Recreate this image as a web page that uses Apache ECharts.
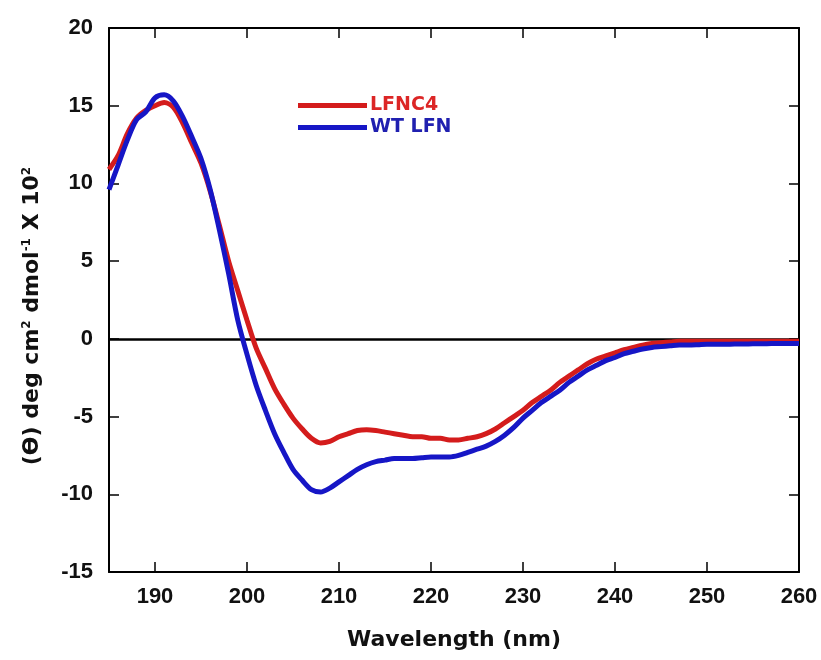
<!DOCTYPE html>
<html>
<head>
<meta charset="utf-8">
<script src="https://cdn.jsdelivr.net/npm/echarts@6/dist/echarts.min.js"></script>
<style>html,body{margin:0;padding:0;background:#fff}#c{width:821px;height:660px}</style>
</head>
<body>
<div id="c"></div>
<script>
var wavelengths = [185,186,187,188,189,190,191,192,193,194,195,196,197,198,199,200,201,202,203,204,205,206,207,208,209,210,211,212,213,214,215,216,217,218,219,220,221,222,223,224,225,226,227,228,229,230,231,232,233,234,235,236,237,238,239,240,241,242,243,244,245,246,247,248,249,250,251,252,253,254,255,256,257,258,259,260];
var lfnc4 = [10.9,11.8,13.2,14.2,14.7,15.0,15.2,14.9,13.9,12.6,11.3,9.5,7.3,5.0,3.1,1.2,-0.6,-1.9,-3.2,-4.2,-5.1,-5.8,-6.4,-6.7,-6.6,-6.3,-6.1,-5.9,-5.85,-5.9,-6.0,-6.1,-6.2,-6.3,-6.3,-6.4,-6.4,-6.5,-6.5,-6.4,-6.3,-6.1,-5.8,-5.4,-5.0,-4.6,-4.1,-3.7,-3.3,-2.8,-2.4,-2.0,-1.6,-1.3,-1.1,-0.9,-0.7,-0.55,-0.4,-0.3,-0.25,-0.2,-0.15,-0.15,-0.15,-0.15,-0.15,-0.15,-0.15,-0.15,-0.15,-0.15,-0.15,-0.15,-0.15,-0.15];
var wtLfn = [9.6,11.2,12.8,14.1,14.6,15.5,15.7,15.3,14.3,13.0,11.6,9.6,7.0,4.2,1.2,-1.0,-3.0,-4.6,-6.1,-7.3,-8.4,-9.1,-9.7,-9.85,-9.6,-9.2,-8.8,-8.4,-8.1,-7.9,-7.8,-7.7,-7.7,-7.7,-7.65,-7.6,-7.6,-7.6,-7.5,-7.3,-7.1,-6.9,-6.6,-6.2,-5.7,-5.1,-4.6,-4.1,-3.7,-3.3,-2.8,-2.4,-2.0,-1.7,-1.4,-1.2,-0.95,-0.8,-0.65,-0.55,-0.5,-0.45,-0.4,-0.4,-0.38,-0.35,-0.35,-0.35,-0.33,-0.33,-0.32,-0.32,-0.3,-0.3,-0.3,-0.3];
var xTickLabels = [190,200,210,220,230,240,250,260];
var xTicks = [190,200,210,220,230,240,250];
var seriesNames = ['LFNC4','WT LFN'];
var lineColors = ['#d41c1c','#1616c6'];
var legendColors = ['#dc2626','#2020b0'];

function pairs(xs, ys){ return xs.map(function(x,i){ return [x, ys[i]]; }); }

var chart = echarts.init(document.getElementById('c'), null, {renderer:'canvas'});
var FONT = 'Liberation Sans, Arial, sans-serif';
var WIDE = 'DejaVu Sans, sans-serif';
var axisLineStyle = {color:'#000', width:2};
chart.setOption({
  animation:false,
  backgroundColor:'#fff',
  grid:{left:109, right:22, top:28, bottom:88},
  legend:{
    orient:'vertical', left:293, top:91, itemWidth:69, itemHeight:5, itemGap:3,
    icon:'rect', selectedMode:false,
    textStyle:{fontFamily:WIDE, fontSize:19, fontWeight:'bold', padding:[0,0,0,-2]},
    data:[
      {name:seriesNames[0], textStyle:{color:legendColors[0]}},
      {name:seriesNames[1], textStyle:{color:legendColors[1]}}
    ]
  },
  xAxis:[
    {type:'value', min:185, max:260, position:'bottom',
     axisLine:{show:true, onZero:false, lineStyle:axisLineStyle},
     axisTick:{show:true, inside:true, length:10, customValues:xTicks, lineStyle:{color:'#000', width:1.5}},
     axisLabel:{customValues:xTickLabels, color:'#111', fontFamily:FONT, fontWeight:'bold', fontSize:22, margin:14},
     splitLine:{show:false},
     name:'Wavelength (nm)', nameLocation:'middle', nameGap:57,
     nameTextStyle:{color:'#111', fontFamily:WIDE, fontWeight:'bold', fontSize:22}
    },
    {type:'value', min:185, max:260, position:'top',
     axisLine:{show:true, onZero:false, lineStyle:axisLineStyle},
     axisTick:{show:true, inside:true, length:10, customValues:xTicks, lineStyle:{color:'#000', width:1.5}},
     axisLabel:{show:false}, splitLine:{show:false}
    }
  ],
  yAxis:[
    {type:'value', min:-15, max:20, interval:5, position:'left',
     axisLine:{show:true, onZero:false, lineStyle:axisLineStyle},
     axisTick:{show:true, inside:true, length:10, lineStyle:{color:'#000', width:1.5}},
     axisLabel:{color:'#111', fontFamily:FONT, fontWeight:'bold', fontSize:22, margin:16},
     splitLine:{show:false},
     name:'(ϴ) deg cm{s|2} dmol{s|-1} X 10{s|2}', nameLocation:'middle', nameGap:66,
     nameTextStyle:{color:'#111', fontFamily:WIDE, fontWeight:'bold', fontSize:22, padding:[0,32,0,0],
       rich:{s:{fontFamily:WIDE, fontWeight:'bold', fontSize:12, color:'#111', verticalAlign:'top', padding:[0,0,10,0]}}}
    },
    {type:'value', min:-15, max:20, interval:5, position:'right',
     axisLine:{show:true, onZero:false, lineStyle:axisLineStyle},
     axisTick:{show:true, inside:true, length:10, lineStyle:{color:'#000', width:1.5}},
     axisLabel:{show:false}, splitLine:{show:false}
    }
  ],
  series:[
    {name:seriesNames[0], type:'line', data:pairs(wavelengths, lfnc4), showSymbol:false, symbol:'none',
     lineStyle:{color:lineColors[0], width:5}, itemStyle:{color:lineColors[0]}, smooth:0.3,
     markLine:{silent:true, symbol:'none', label:{show:false}, lineStyle:{color:'#000', width:2.5, type:'solid'},
       data:[{yAxis:0}], z:1}
    },
    {name:seriesNames[1], type:'line', data:pairs(wavelengths, wtLfn), showSymbol:false, symbol:'none',
     lineStyle:{color:lineColors[1], width:5}, itemStyle:{color:lineColors[1]}, smooth:0.3}
  ]
});
</script>
</body>
</html>
